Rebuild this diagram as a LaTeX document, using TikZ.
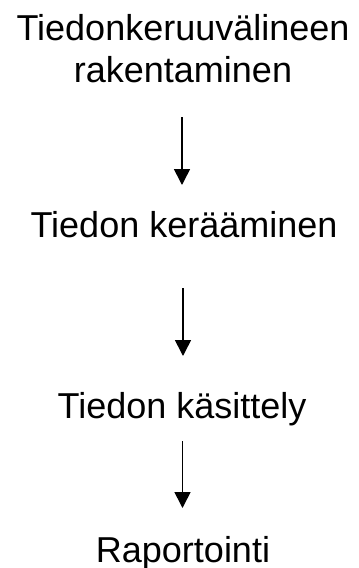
\documentclass[tikz,border=0pt]{standalone}
\usepackage{fontspec}
\setmainfont{Liberation Sans}
\usetikzlibrary{arrows.meta}
\begin{document}
\begin{tikzpicture}[x=1pt,y=-1pt,
  lbl/.style={anchor=base,inner sep=0pt,font=\fontsize{36}{40}\selectfont},
  arr/.style={line width=1.6pt,-{Triangle[width=16pt,length=16pt]}}]
\useasboundingbox (0,0) rectangle (359,568);
\node[lbl] (t1a) at (183,40) {Tiedonkeruuvälineen};
\node[lbl] (t1b) at (183,82) {rakentaminen};
\node[lbl] (t2) at (184,237) {Tiedon kerääminen};
\node[lbl] (t3) at (182,418) {Tiedon käsittely};
\node[lbl] (t4) at (183,562) {Raportointi};
\coordinate (a1s) at (182,117);
\coordinate (a1e) at (182,185);
\coordinate (a2s) at (183,288);
\coordinate (a2e) at (183,356);
\coordinate (a3s) at (182.5,441);
\coordinate (a3e) at (182.5,508);
\draw[arr] (a1s) -- (a1e);
\draw[arr] (a2s) -- (a2e);
\draw[arr] (a3s) -- (a3e);
\end{tikzpicture}
\end{document}
